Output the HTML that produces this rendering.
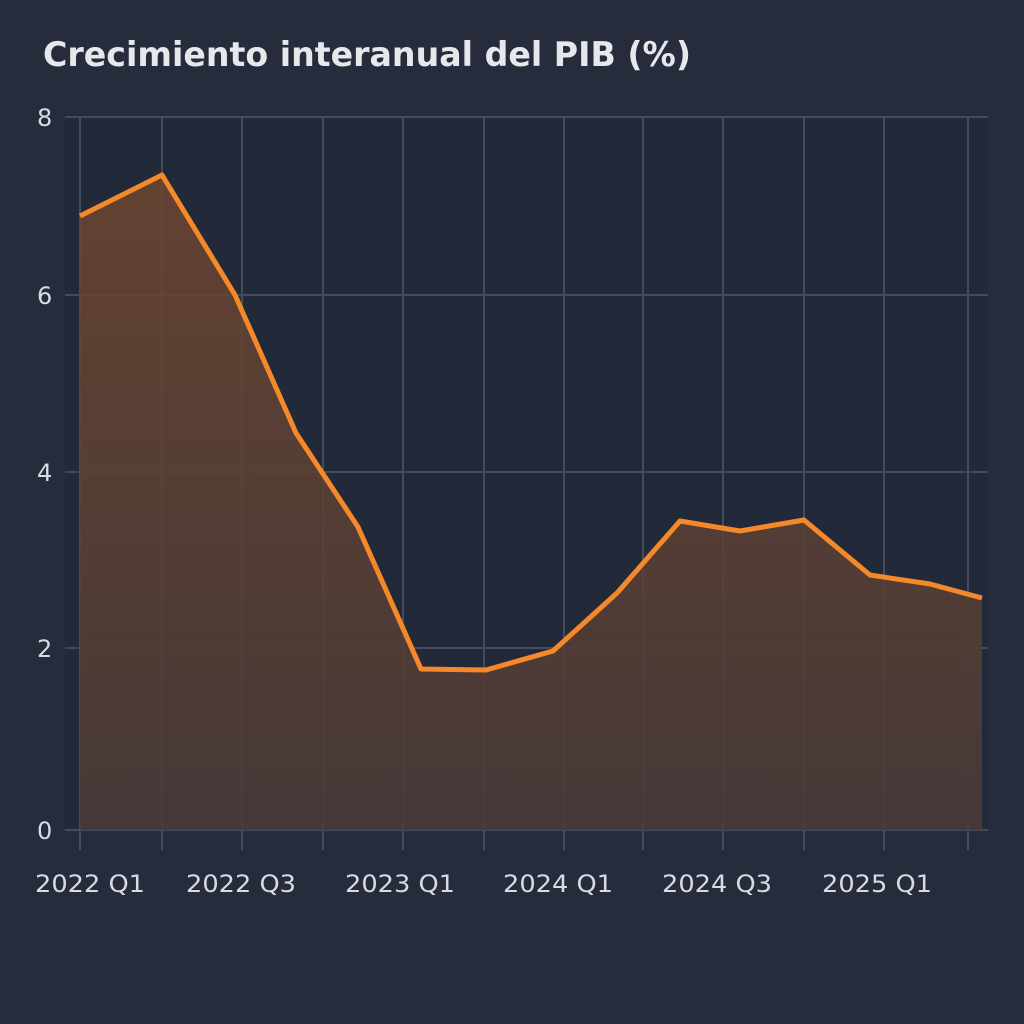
<!DOCTYPE html>
<html><head><meta charset="utf-8"><style>
html,body{margin:0;padding:0;background:#262c3b;}
svg{display:block}
</style></head><body>
<svg width="1024" height="1024" viewBox="0 0 1024 1024" xmlns="http://www.w3.org/2000/svg">
<defs>
<linearGradient id="f" x1="0" y1="0" x2="0" y2="1">
<stop offset="0" stop-color="#6e4630" stop-opacity="0.85"/>
<stop offset="1" stop-color="#4a3a38" stop-opacity="0.9"/>
</linearGradient>
</defs>
<rect width="1024" height="1024" fill="#262c3b"/>
<rect x="65" y="117" width="923" height="713" fill="#222938"/>
<text x="43" y="66" font-family="DejaVu Sans, sans-serif" font-size="34" font-weight="bold" fill="#e6e8ec" textLength="648" lengthAdjust="spacingAndGlyphs">Crecimiento interanual del PIB (%)</text>
<g stroke="#434b5c" stroke-width="2">
<line x1="65" y1="117" x2="988" y2="117"/>
<line x1="65" y1="295" x2="988" y2="295"/>
<line x1="65" y1="472" x2="988" y2="472"/>
<line x1="65" y1="648" x2="988" y2="648"/>
<line x1="65" y1="830" x2="988" y2="830"/>
<line x1="80" y1="117" x2="80" y2="850"/>
<line x1="162" y1="117" x2="162" y2="850"/>
<line x1="242" y1="117" x2="242" y2="850"/>
<line x1="323" y1="117" x2="323" y2="850"/>
<line x1="403" y1="117" x2="403" y2="850"/>
<line x1="484" y1="117" x2="484" y2="850"/>
<line x1="564" y1="117" x2="564" y2="850"/>
<line x1="643" y1="117" x2="643" y2="850"/>
<line x1="723" y1="117" x2="723" y2="850"/>
<line x1="804" y1="117" x2="804" y2="850"/>
<line x1="884" y1="117" x2="884" y2="850"/>
<line x1="968" y1="117" x2="968" y2="850"/>
</g>
<path d="M80,216 L162,175 L235,295 L296,433 L358,527 L421,669 L486,670 L553,651 L617,593 L680,521 L740,531 L804,520 L870,575 L930,584 L982,598 L982,830 L80,830 Z" fill="url(#f)"/>
<polyline points="80,216 162,175 235,295 296,433 358,527 421,669 486,670 553,651 617,593 680,521 740,531 804,520 870,575 930,584 982,598" fill="none" stroke="#f5892a" stroke-width="5" stroke-linejoin="round"/>
<g font-family="DejaVu Sans, sans-serif" font-size="24" fill="#d8dbe2">
<text x="37" y="126">8</text>
<text x="37" y="304">6</text>
<text x="37" y="481">4</text>
<text x="37" y="657">2</text>
<text x="37" y="839">0</text>
<g text-anchor="middle">
<text x="90" y="892" textLength="110" lengthAdjust="spacingAndGlyphs">2022 Q1</text>
<text x="241" y="892" textLength="110" lengthAdjust="spacingAndGlyphs">2022 Q3</text>
<text x="400" y="892" textLength="110" lengthAdjust="spacingAndGlyphs">2023 Q1</text>
<text x="558" y="892" textLength="110" lengthAdjust="spacingAndGlyphs">2024 Q1</text>
<text x="717" y="892" textLength="110" lengthAdjust="spacingAndGlyphs">2024 Q3</text>
<text x="877" y="892" textLength="110" lengthAdjust="spacingAndGlyphs">2025 Q1</text>
</g>
</g>
</svg>
</body></html>
